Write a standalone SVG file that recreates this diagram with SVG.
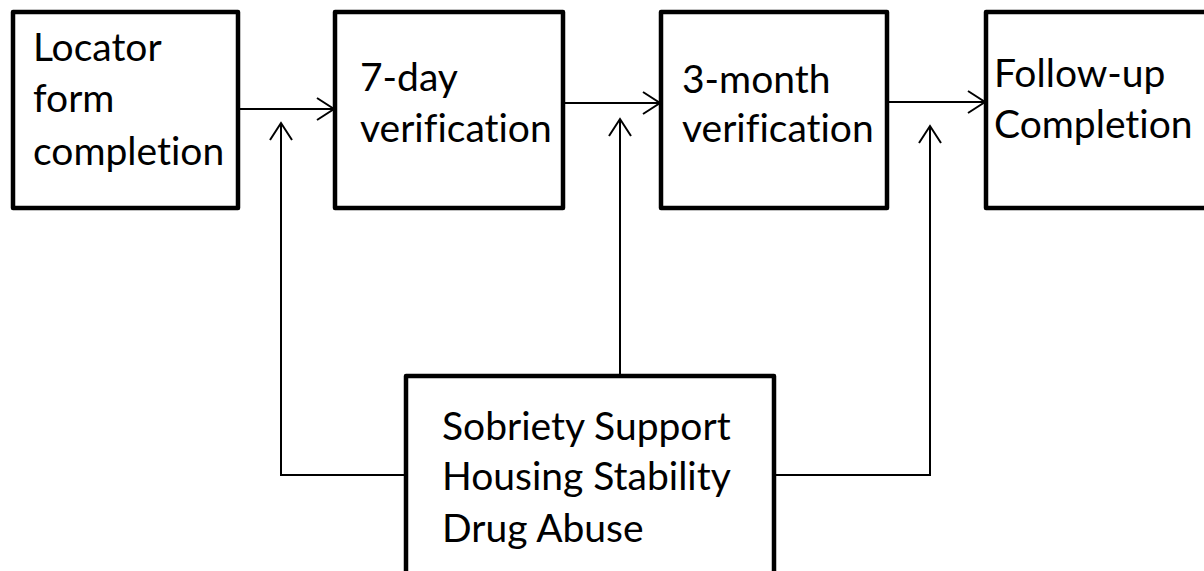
<svg xmlns="http://www.w3.org/2000/svg" width="1204" height="571" viewBox="0 0 1204 571">
<defs>
<style>
.box{fill:#fff;stroke:#000;stroke-width:4.5;stroke-linejoin:round}
.t{font-family:Lato,"Liberation Sans",sans-serif;font-size:39px;fill:#000;font-variant-ligatures:none}
.c{fill:none;stroke:#000;stroke-width:2}
</style>
<marker id="ah" markerWidth="20" markerHeight="26" refX="18" refY="12" orient="auto" markerUnits="userSpaceOnUse">
<path d="M1,1 L18,12 L1,23" fill="none" stroke="#000" stroke-width="2"/>
</marker>
</defs>
<rect width="1204" height="571" fill="#fff"/>
<g id="connectors">
<line class="c" x1="238" y1="109" x2="334" y2="109" marker-end="url(#ah)"/>
<line class="c" x1="563" y1="103" x2="660" y2="103" marker-end="url(#ah)"/>
<line class="c" x1="887" y1="102" x2="985" y2="102" marker-end="url(#ah)"/>
<polyline class="c" points="406,475 281,475 281,123" marker-end="url(#ah)"/>
<line class="c" x1="620" y1="376" x2="620" y2="119" marker-end="url(#ah)"/>
<polyline class="c" points="774,475 930,475 930,126" marker-end="url(#ah)"/>
</g>
<g id="locator">
<rect class="box" x="13" y="12" width="225" height="196"/>
<text class="t" x="33" y="61">Locator</text>
<text class="t" x="33" y="112">form</text>
<text class="t" x="33" y="165">completion</text>
</g>
<g id="day7">
<rect class="box" x="335" y="12" width="228" height="196"/>
<text class="t" x="360" y="91">7-day</text>
<text class="t" x="360" y="142">verification</text>
</g>
<g id="month3">
<rect class="box" x="661" y="12" width="226" height="196"/>
<text class="t" x="682" y="93">3-month</text>
<text class="t" x="682" y="142">verification</text>
</g>
<g id="followup">
<rect class="box" x="986" y="12" width="240" height="196"/>
<text class="t" x="994" y="87">Follow-up</text>
<text class="t" x="994" y="138">Completion</text>
</g>
<g id="factors">
<rect class="box" x="406" y="376" width="368" height="220"/>
<text class="t" x="442" y="440">Sobriety Support</text>
<text class="t" x="442" y="490">Housing Stability</text>
<text class="t" x="442" y="542">Drug Abuse</text>
</g>
</svg>
